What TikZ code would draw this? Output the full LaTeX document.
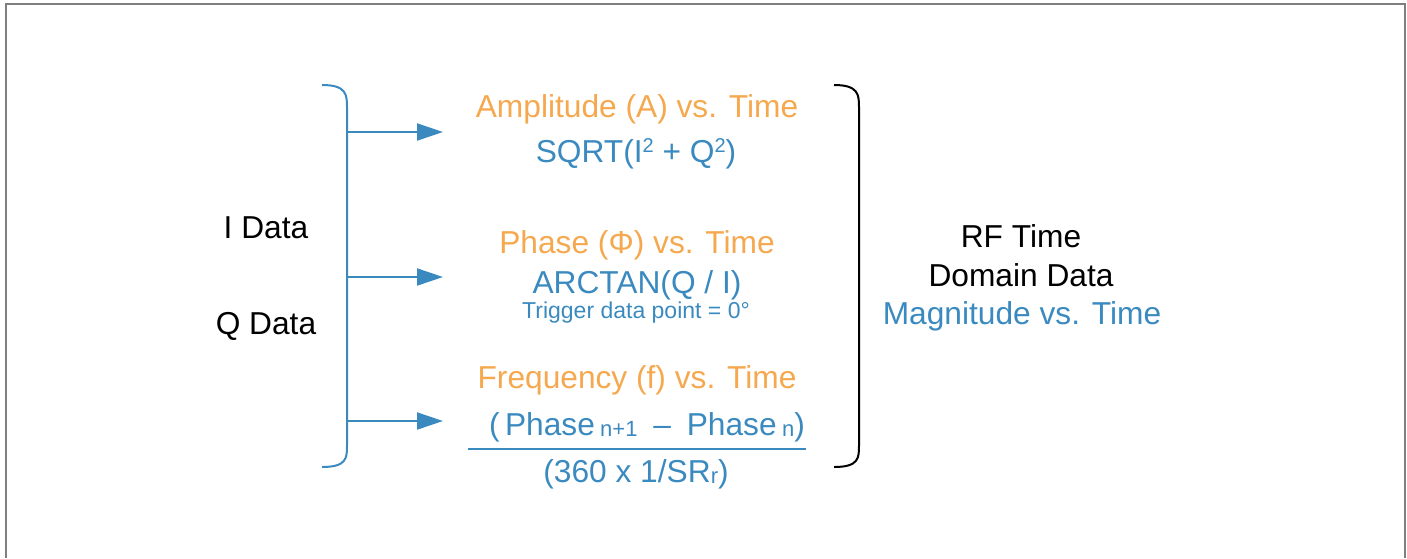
\documentclass[tikz,border=0pt]{standalone}
\usepackage{fontspec}
\setmainfont{Liberation Sans}
\usetikzlibrary{arrows.meta}
\definecolor{cblue}{HTML}{3A8AC0}
\definecolor{corange}{HTML}{F5A84E}
\definecolor{cframe}{HTML}{7F7F7F}
\tikzset{
  big/.style={font=\fontsize{31.7}{38}\selectfont, inner sep=0pt, anchor=base},
  small/.style={font=\fontsize{23}{27}\selectfont, inner sep=0pt, anchor=base},
  ttl/.style={big, text=corange},
  frm/.style={big, text=cblue},
  blk/.style={big, text=black},
  brk/.style={line width=2pt},
  arr/.style={cblue, line width=2pt, -{Triangle[length=26pt,width=17pt]}}
}
\newcommand{\lowsub}[1]{\raisebox{-1pt}{\fontsize{22}{26}\selectfont #1}}
\newcommand{\hisup}[1]{\raisebox{10pt}{\fontsize{20}{24}\selectfont #1}}
\begin{document}
\begin{tikzpicture}[x=1pt,y=-1pt]
\useasboundingbox (0,0) rectangle (1407,558);
% frame
\draw[cframe, line width=2pt] (6,558) -- (6,4) -- (1405,4) -- (1405,558);
% left bracket
\coordinate (lt) at (322,85);
\coordinate (lb) at (322,467);
\draw[cblue, brk] (lt) .. controls (347,85) and (347,95) .. (347,108) -- (347,445) .. controls (347,458) and (347,467) .. (lb);
\coordinate (a1) at (347,132);
\coordinate (a2) at (347,277);
\coordinate (a3) at (347,421);
\coordinate (t1) at (443,132);
\coordinate (t2) at (443,277);
\coordinate (t3) at (443,421);
\draw[arr] (a1) -- (t1);
\draw[arr] (a2) -- (t2);
\draw[arr] (a3) -- (t3);
% right bracket
\coordinate (rt) at (834,85);
\coordinate (rb) at (834,467);
\draw[black, brk] (rt) .. controls (859,85) and (859,95) .. (859,108) -- (859,445) .. controls (859,458) and (859,467) .. (rb);
% left texts
\node[blk] (idata) at (266,238) {I Data};
\node[blk] (qdata) at (266,334) {Q Data};
% middle texts
\node[ttl] (amp) at (637,117) {Amplitude (A) vs. Time};
\node[frm] (sqrt) at (636,162) {SQRT(I\hisup{2} + Q\hisup{2})};
\node[ttl] (phase) at (637,253) {Phase (Φ) vs. Time};
\node[frm] (arctan) at (637,293) {ARCTAN(Q / I)};
\node[small, text=cblue] (trig) at (636,318) {Trigger data point = 0°};
\node[ttl] (freq) at (637,388) {Frequency (f) vs. Time};
\node[frm] (num) at (647,435) {(\,Phase\,\lowsub{n+1}\enspace–\enspace Phase\,\lowsub{n})};
\coordinate (fl) at (468,449);
\coordinate (fr) at (806,449);
\draw[cblue, line width=1.5pt] (fl) -- (fr);
\node[frm] (den) at (636,482) {(360 x 1/SR\lowsub{r})};
% right texts
\node[blk] (rf) at (1021,247) {RF Time};
\node[blk] (dom) at (1021,286) {Domain Data};
\node[frm] (mag) at (1022,324) {Magnitude vs. Time};
\end{tikzpicture}
\end{document}
